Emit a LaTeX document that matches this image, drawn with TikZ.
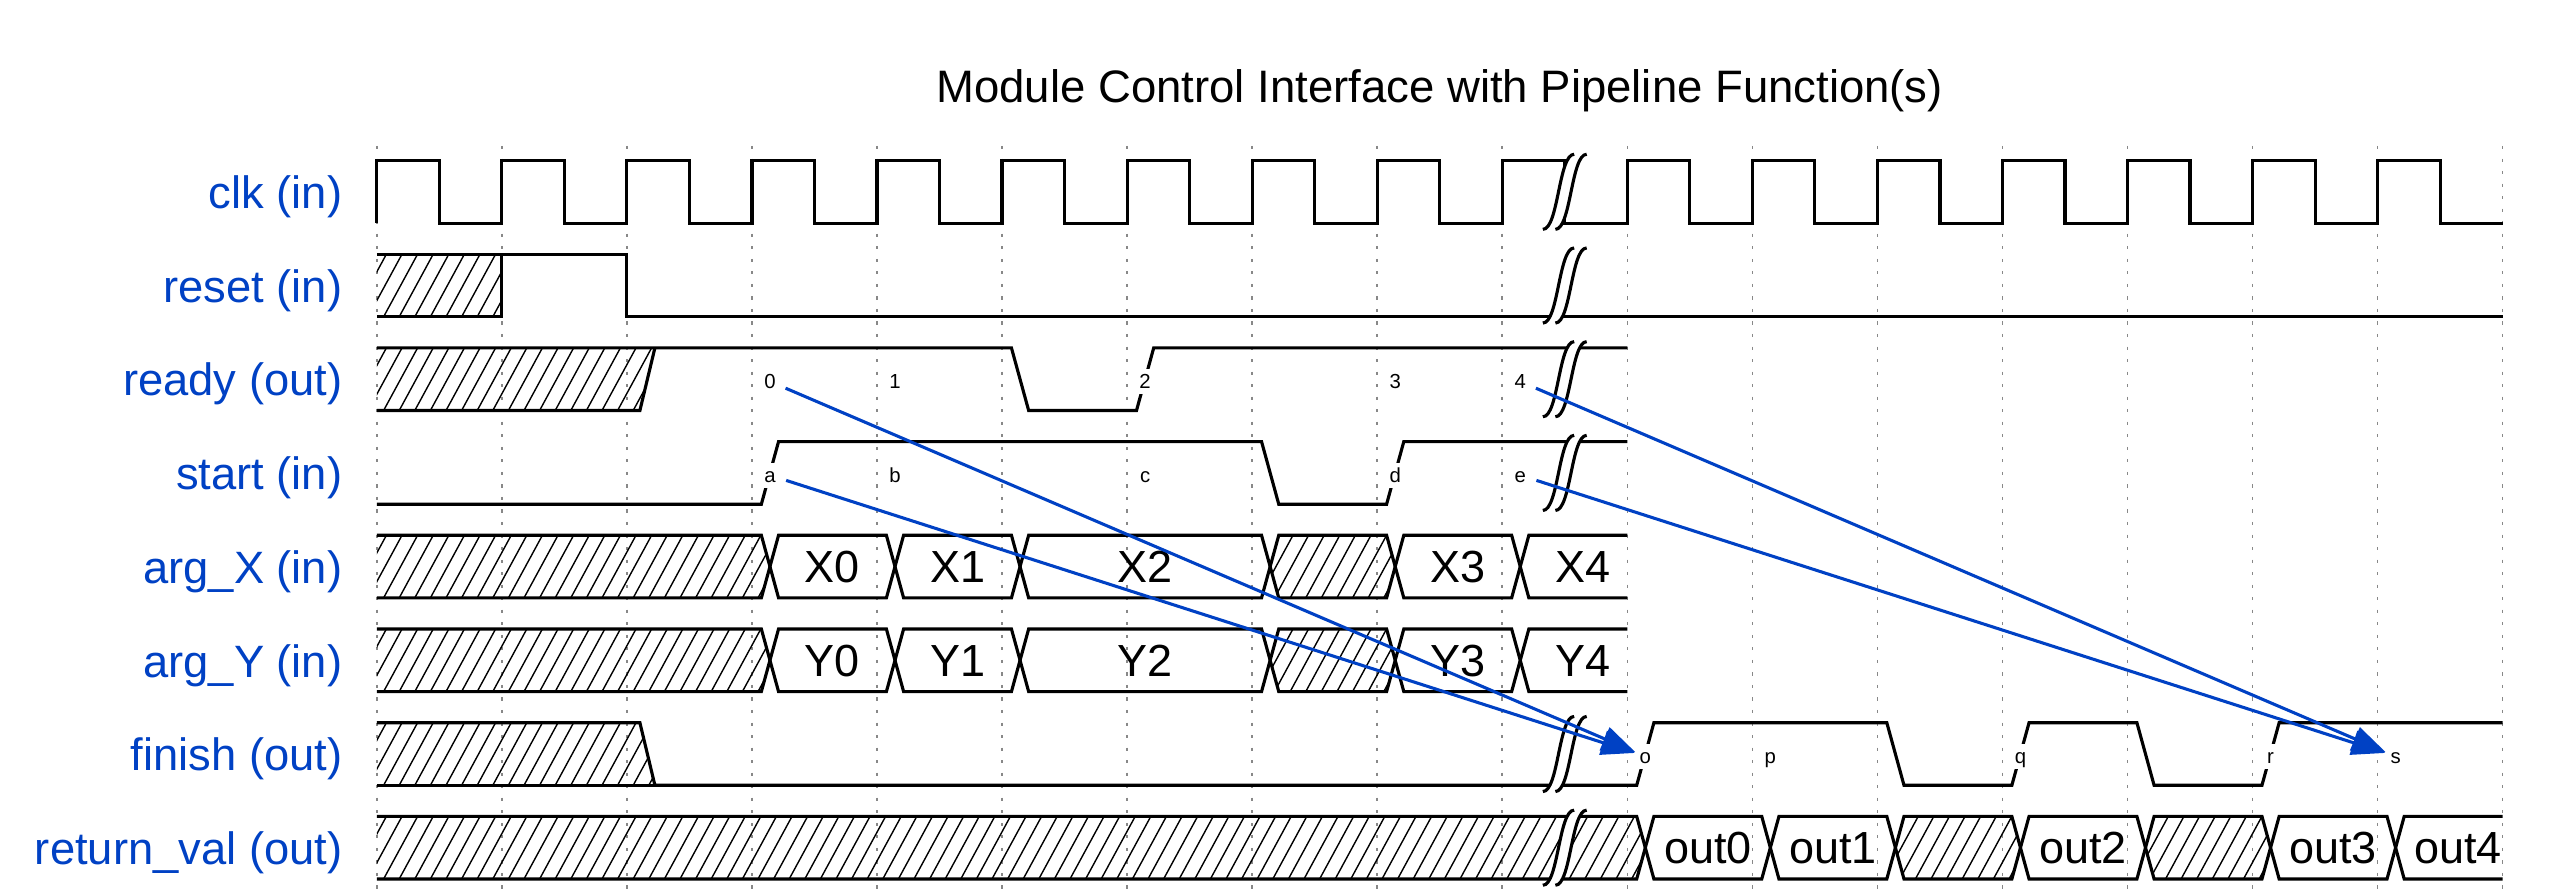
\documentclass[tikz,border=0pt]{standalone}
\usepackage{fontspec}
\setmainfont{Liberation Sans}
\usetikzlibrary{arrows.meta}
\definecolor{wblue}{HTML}{0041C4}
\definecolor{wgrid}{HTML}{888888}
\pgfmathdeclarefunction{gridx}{1}{\pgfmathparse{376.8+125.05*#1}}
\pgfmathdeclarefunction{rowtop}{1}{\pgfmathparse{160.5+93.7*#1}}
\pgfmathdeclarefunction{rowbot}{1}{\pgfmathparse{223.1+93.7*#1}}
\pgfmathdeclarefunction{rowmid}{1}{\pgfmathparse{191.8+93.7*#1}}

\newcommand\hatch[4]{%
  \begin{scope}
    \clip #4;
    \pgfmathsetmacro\hxa{#2-40}%
    \pgfmathsetmacro\hxb{#2-40+15.6}%
    \pgfmathsetmacro\hxe{#3}%
    \pgfmathsetmacro\hyt{rowtop(#1)}%
    \pgfmathsetmacro\hyb{rowbot(#1)}%
    \foreach \xx in {\hxa,\hxb,...,\hxe} {\draw[hatchln] (\xx,\hyb) -- ({\xx+34},\hyt);}
  \end{scope}}

\newcommand\dmid[5]{%
  \draw[wave] ({gridx(#3)+26.6},{rowtop(#2)}) -- ({gridx(#4)+9.4},{rowtop(#2)}) -- ({gridx(#4)+18},{rowmid(#2)}) -- ({gridx(#4)+9.4},{rowbot(#2)}) -- ({gridx(#3)+26.6},{rowbot(#2)}) -- ({gridx(#3)+18},{rowmid(#2)}) -- cycle;
  \node[dat] (#1) at ({(gridx(#3)+gridx(#4))/2+18},{rowmid(#2)}) {#5};}

\newcommand\dlast[5]{%
  \draw[wave] ({gridx(#4)},{rowtop(#2)}) -- ({gridx(#3)+26.6},{rowtop(#2)}) -- ({gridx(#3)+18},{rowmid(#2)}) -- ({gridx(#3)+26.6},{rowbot(#2)}) -- ({gridx(#4)},{rowbot(#2)});
  \node[dat] (#1) at ({(gridx(#3)+gridx(#4))/2+18},{rowmid(#2)}) {#5};}

\newcommand\xmid[3]{%
  \hatch{#1}{gridx(#2)}{gridx(#3)+18}{({gridx(#2)+26.6},{rowtop(#1)}) -- ({gridx(#3)+9.4},{rowtop(#1)}) -- ({gridx(#3)+18},{rowmid(#1)}) -- ({gridx(#3)+9.4},{rowbot(#1)}) -- ({gridx(#2)+26.6},{rowbot(#1)}) -- ({gridx(#2)+18},{rowmid(#1)}) -- cycle}
  \draw[wave] ({gridx(#2)+26.6},{rowtop(#1)}) -- ({gridx(#3)+9.4},{rowtop(#1)}) -- ({gridx(#3)+18},{rowmid(#1)}) -- ({gridx(#3)+9.4},{rowbot(#1)}) -- ({gridx(#2)+26.6},{rowbot(#1)}) -- ({gridx(#2)+18},{rowmid(#1)}) -- cycle;}

\newcommand\xfirst[2]{%
  \hatch{#1}{gridx(0)}{gridx(#2)+18}{({gridx(0)},{rowtop(#1)}) -- ({gridx(#2)+9.4},{rowtop(#1)}) -- ({gridx(#2)+18},{rowmid(#1)}) -- ({gridx(#2)+9.4},{rowbot(#1)}) -- ({gridx(0)},{rowbot(#1)}) -- cycle}
  \draw[wave] ({gridx(0)},{rowtop(#1)}) -- ({gridx(#2)+9.4},{rowtop(#1)}) -- ({gridx(#2)+18},{rowmid(#1)}) -- ({gridx(#2)+9.4},{rowbot(#1)}) -- ({gridx(0)},{rowbot(#1)});}

\newcommand\gapmark[1]{%
  \begin{scope}[shift={({gridx(9.5)},{rowtop(#1)})}, x=0.939pt, y=-0.939pt]
    \fill[white] (7,-2) -- (3,-2) .. controls (-2,-2) and (-2,22) .. (-7,22) -- (-3,22) .. controls (2,22) and (2,-2) .. (7,-2) -- cycle;
    \draw[wave] (-7,22) .. controls (-2,22) and (-2,-2) .. (3,-2);
    \draw[wave] (-3,22) .. controls (2,22) and (2,-2) .. (7,-2);
  \end{scope}}

\begin{document}
\begin{tikzpicture}[x=0.3pt,y=-0.3pt,
  wave/.style={line width=0.94pt, black},
  hatchln/.style={line width=0.42pt, black},
  gridln/.style={wgrid, line width=0.47pt, dash pattern=on 0.94pt off 2.82pt},
  dat/.style={font=\fontsize{13.5}{16}\selectfont, text height=9.7pt, text depth=0pt, inner sep=0pt},
  lane/.style={font=\fontsize{13.6}{16}\selectfont, text=wblue, anchor=base east, inner sep=0pt},
  nl/.style={font=\fontsize{6.1}{7}\selectfont, fill=white, text height=4.4pt, text depth=0pt, inner sep=1.5pt},
  edge/.style={wblue, line width=0.92pt, -{Triangle[length=10pt,width=7.4pt]}, shorten <=5.1pt, shorten >=3.3pt}]
\useasboundingbox (0,0) rectangle (2563,894);

% grid
\foreach \k in {0,...,17} \draw[gridln] ({gridx(\k)},146) -- ({gridx(\k)},894);

% title and lane names
\node[font=\fontsize{13.65}{16}\selectfont, anchor=base, inner sep=0pt] (title) at (1439.7,103) {Module Control Interface with Pipeline Function(s)};
\node[lane] (lclk) at (343,{rowmid(0)+16.7}) {clk (in)};
\node[lane] (lrst) at (343,{rowmid(1)+16.7}) {reset (in)};
\node[lane] (lrdy) at (343,{rowmid(2)+16.7}) {ready (out)};
\node[lane] (lstart) at (343,{rowmid(3)+16.7}) {start (in)};
\node[lane] (largx) at (343,{rowmid(4)+16.7}) {arg\_X (in)};
\node[lane] (largy) at (343,{rowmid(5)+16.7}) {arg\_Y (in)};
\node[lane] (lfin) at (343,{rowmid(6)+16.7}) {finish (out)};
\node[lane] (lret) at (343,{rowmid(7)+16.7}) {return\_val (out)};

% clk
\draw[wave] ({gridx(0)},{rowbot(0)}) \foreach \k in {0,...,16} { -- ({gridx(\k)},{rowtop(0)}) -- ({gridx(\k+0.5)},{rowtop(0)}) -- ({gridx(\k+0.5)},{rowbot(0)}) -- ({gridx(\k+1)},{rowbot(0)}) };

% reset
\hatch{1}{gridx(0)}{gridx(1)}{({gridx(0)},{rowtop(1)}) rectangle ({gridx(1)},{rowbot(1)})}
\draw[wave] ({gridx(0)},{rowbot(1)}) -- ({gridx(1)},{rowbot(1)}) -- ({gridx(1)},{rowtop(1)});
\draw[wave] ({gridx(0)},{rowtop(1)}) -- ({gridx(2)},{rowtop(1)}) -- ({gridx(2)},{rowbot(1)}) -- ({gridx(17)},{rowbot(1)});

% ready
\hatch{2}{gridx(0)}{gridx(2)+28}{({gridx(0)},{rowtop(2)}) -- ({gridx(2)+28},{rowtop(2)}) -- ({gridx(2)+13},{rowbot(2)}) -- ({gridx(0)},{rowbot(2)}) -- cycle}
\draw[wave] ({gridx(0)},{rowbot(2)}) -- ({gridx(2)+13},{rowbot(2)}) -- ({gridx(2)+28},{rowtop(2)});
\draw[wave] ({gridx(0)},{rowtop(2)}) -- ({gridx(5)+9.4},{rowtop(2)}) -- ({gridx(5)+26.6},{rowbot(2)}) -- ({gridx(6)+9.4},{rowbot(2)}) -- ({gridx(6)+26.6},{rowtop(2)}) -- ({gridx(10)},{rowtop(2)});

% start
\draw[wave] ({gridx(0)},{rowbot(3)}) -- ({gridx(3)+9.4},{rowbot(3)}) -- ({gridx(3)+26.6},{rowtop(3)}) -- ({gridx(7)+9.4},{rowtop(3)}) -- ({gridx(7)+26.6},{rowbot(3)}) -- ({gridx(8)+9.4},{rowbot(3)}) -- ({gridx(8)+26.6},{rowtop(3)}) -- ({gridx(10)},{rowtop(3)});

% arg_X
\xfirst{4}{3}
\dmid{x0}{4}{3}{4}{X0}
\dmid{x1}{4}{4}{5}{X1}
\dmid{x2}{4}{5}{7}{X2}
\xmid{4}{7}{8}
\dmid{x3}{4}{8}{9}{X3}
\dlast{x4}{4}{9}{10}{X4}

% arg_Y
\xfirst{5}{3}
\dmid{y0}{5}{3}{4}{Y0}
\dmid{y1}{5}{4}{5}{Y1}
\dmid{y2}{5}{5}{7}{Y2}
\xmid{5}{7}{8}
\dmid{y3}{5}{8}{9}{Y3}
\dlast{y4}{5}{9}{10}{Y4}

% finish
\hatch{6}{gridx(0)}{gridx(2)+28}{({gridx(0)},{rowtop(6)}) -- ({gridx(2)+13},{rowtop(6)}) -- ({gridx(2)+28},{rowbot(6)}) -- ({gridx(0)},{rowbot(6)}) -- cycle}
\draw[wave] ({gridx(0)},{rowbot(6)}) -- ({gridx(2)+28},{rowbot(6)});
\draw[wave] ({gridx(0)},{rowtop(6)}) -- ({gridx(2)+13},{rowtop(6)}) -- ({gridx(2)+28},{rowbot(6)}) -- ({gridx(10)+9.4},{rowbot(6)}) -- ({gridx(10)+26.6},{rowtop(6)}) -- ({gridx(12)+9.4},{rowtop(6)}) -- ({gridx(12)+26.6},{rowbot(6)}) -- ({gridx(13)+9.4},{rowbot(6)}) -- ({gridx(13)+26.6},{rowtop(6)}) -- ({gridx(14)+9.4},{rowtop(6)}) -- ({gridx(14)+26.6},{rowbot(6)}) -- ({gridx(15)+9.4},{rowbot(6)}) -- ({gridx(15)+26.6},{rowtop(6)}) -- ({gridx(17)},{rowtop(6)});

% return_val
\xfirst{7}{10}
\dmid{o0}{7}{10}{11}{out0}
\dmid{o1}{7}{11}{12}{out1}
\xmid{7}{12}{13}
\dmid{o2}{7}{13}{14}{out2}
\xmid{7}{14}{15}
\dmid{o3}{7}{15}{16}{out3}
\dlast{o4}{7}{16}{17}{out4}

% gaps
\gapmark{0}
\gapmark{1}
\gapmark{2}
\gapmark{3}
\gapmark{6}
\gapmark{7}

% node labels
\node[nl] (n0) at ({gridx(3)+18},{rowmid(2)+2.3}) {0};
\node[nl] (n1) at ({gridx(4)+18},{rowmid(2)+2.3}) {1};
\node[nl] (n2) at ({gridx(6)+18},{rowmid(2)+2.3}) {2};
\node[nl] (n3) at ({gridx(8)+18},{rowmid(2)+2.3}) {3};
\node[nl] (n4) at ({gridx(9)+18},{rowmid(2)+2.3}) {4};
\node[nl] (na) at ({gridx(3)+18},{rowmid(3)+2.3}) {a};
\node[nl] (nb) at ({gridx(4)+18},{rowmid(3)+2.3}) {b};
\node[nl] (nc) at ({gridx(6)+18},{rowmid(3)+2.3}) {c};
\node[nl] (nd) at ({gridx(8)+18},{rowmid(3)+2.3}) {d};
\node[nl] (ne) at ({gridx(9)+18},{rowmid(3)+2.3}) {e};
\node[nl] (no) at ({gridx(10)+18},{rowmid(6)+2.3}) {o};
\node[nl] (np) at ({gridx(11)+18},{rowmid(6)+2.3}) {p};
\node[nl] (nq) at ({gridx(13)+18},{rowmid(6)+2.3}) {q};
\node[nl] (nr) at ({gridx(15)+18},{rowmid(6)+2.3}) {r};
\node[nl] (ns) at ({gridx(16)+18},{rowmid(6)+2.3}) {s};

% edges
\draw[edge] (n0.center) -- (no.center);
\draw[edge] (na.center) -- (no.center);
\draw[edge] (n4.center) -- (ns.center);
\draw[edge] (ne.center) -- (ns.center);
\end{tikzpicture}
\end{document}
